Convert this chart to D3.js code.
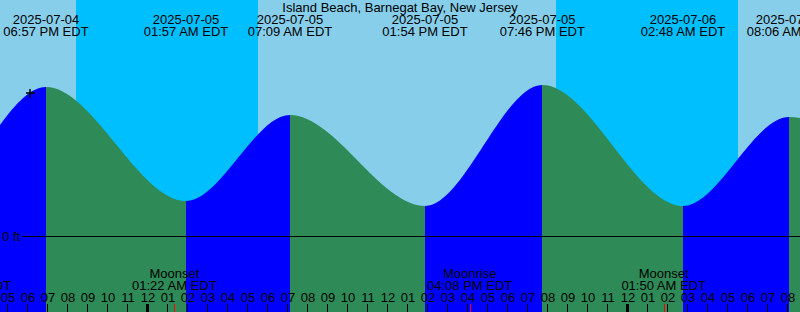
<!DOCTYPE html>
<meta charset="UTF-8">
<style>
    body { margin: 0; }
    text { font-family: "Liberation Sans", Arial, sans-serif; font-size: 13px; fill: #000; }
</style>
<body>
<div id="chart"></div>
<script src="https://d3js.org/d3.v7.min.js"></script>
<script>

// chart data
var title = "Island Beach, Barnegat Bay, New Jersey";
var tideTimes = ["2025-07-04 07:00", "2025-07-04 13:08", "2025-07-04 18:57", "2025-07-05 01:57",
                 "2025-07-05 07:09", "2025-07-05 13:54", "2025-07-05 19:46", "2025-07-06 02:48",
                 "2025-07-06 08:06", "2025-07-06 14:30"];
var tideFeet = [1.20, 0.39, 1.49, 0.35, 1.21, 0.30, 1.51, 0.30, 1.19, 0.32];
var sunsets = ["2025-07-04 20:27", "2025-07-05 20:27"];
var sunrises = ["2025-07-05 05:33", "2025-07-06 05:33"];
var moonTimes = ["2025-07-04 15:05", "2025-07-05 01:22", "2025-07-05 16:08", "2025-07-06 01:50"];
var moonEvents = ["Moonrise", "Moonset", "Moonrise", "Moonset"];
var nowMark = {time: "2025-07-04 18:09", ft: 1.43};
var timeWindow = ["2025-07-04 16:39", "2025-07-06 08:39"];

// dimensions
var width = 800, height = 312;

var parseTime = d3.utcParse("%Y-%m-%d %H:%M");
var fmtDate = d3.utcFormat("%Y-%m-%d");
var fmtTime = d3.utcFormat("%I:%M %p EDT");
var fmtHour = d3.utcFormat("%I");

var tides = tideTimes.map(function(t, i) { return {t: parseTime(t), ft: tideFeet[i]}; });

// scales
var x = d3.scaleUtc().domain(timeWindow.map(parseTime)).range([0, width]);
var y = d3.scaleLinear().domain([0, 1]).range([236, 136]);

var svg = d3.select("#chart").append("svg")
    .attr("width", width)
    .attr("height", height)
    .style("display", "block");

// sky: day then night bands
svg.append("rect")
    .attr("width", width).attr("height", height)
    .attr("fill", "#87CEEB");

svg.selectAll(".night")
    .data(sunsets)
    .enter().append("rect")
    .attr("class", "night")
    .attr("x", function(d) { return x(parseTime(d)); })
    .attr("y", 0)
    .attr("width", function(d, i) { return x(parseTime(sunrises[i])) - x(parseTime(d)); })
    .attr("height", height)
    .attr("fill", "#00BFFF");

// tide area used as clip
var area = d3.area()
    .x(function(d) { return x(d.t); })
    .y0(height)
    .y1(function(d) { return y(d.ft); })
    .curve(d3.curveMonotoneX);

svg.append("clipPath")
    .attr("id", "tideclip")
    .append("path")
    .attr("d", area(tides));

// rising = blue, falling = green
var segs = d3.pairs(tides);
svg.append("g")
    .attr("clip-path", "url(#tideclip)")
    .selectAll("rect")
    .data(segs)
    .enter().append("rect")
    .attr("x", function(d) { return x(d[0].t); })
    .attr("y", 0)
    .attr("width", function(d) { return x(d[1].t) - x(d[0].t); })
    .attr("height", height)
    .attr("fill", function(d) { return d[1].ft > d[0].ft ? "#0000FF" : "#2E8B57"; })
    .attr("shape-rendering", "crispEdges");

// zero line
svg.append("line")
    .attr("x1", 22).attr("x2", width)
    .attr("y1", y(0)).attr("y2", y(0))
    .attr("stroke", "#000")
    .attr("shape-rendering", "crispEdges");

svg.append("text")
    .attr("x", 2).attr("y", y(0) + 5)
    .text("0 ft");

// title
svg.append("text")
    .attr("x", width / 2).attr("y", 12)
    .attr("text-anchor", "middle")
    .text(title);

// tide extreme labels
var tl = svg.selectAll(".tlab")
    .data(tides)
    .enter().append("text")
    .attr("class", "tlab")
    .attr("text-anchor", "middle");
tl.append("tspan")
    .attr("x", function(d) { return x(d.t); })
    .attr("y", 24)
    .text(function(d) { return fmtDate(d.t); });
tl.append("tspan")
    .attr("x", function(d) { return x(d.t); })
    .attr("y", 36)
    .text(function(d) { return fmtTime(d.t); });

// moon labels
var ml = svg.selectAll(".mlab")
    .data(moonTimes)
    .enter().append("text")
    .attr("class", "mlab")
    .attr("text-anchor", "middle");
ml.append("tspan")
    .attr("x", function(d) { return x(parseTime(d)); })
    .attr("y", 278)
    .text(function(d, i) { return moonEvents[i]; });
ml.append("tspan")
    .attr("x", function(d) { return x(parseTime(d)); })
    .attr("y", 290)
    .text(function(d) { return fmtTime(parseTime(d)); });

// hour ticks and labels
var hours = d3.utcHour.range(x.domain()[0], x.domain()[1]);
svg.selectAll(".hlab")
    .data(hours)
    .enter().append("text")
    .attr("class", "hlab")
    .attr("x", function(d) { return x(d) + 1; })
    .attr("y", 302)
    .attr("text-anchor", "middle")
    .text(function(d) { return fmtHour(d); });

svg.selectAll(".htick")
    .data(hours)
    .enter().append("line")
    .attr("class", "htick")
    .attr("x1", function(d) { return Math.round(x(d)) + 0.5; })
    .attr("x2", function(d) { return Math.round(x(d)) + 0.5; })
    .attr("y1", 304).attr("y2", height)
    .attr("stroke", "#000")
    .attr("stroke-width", function(d) { return d.getUTCHours() === 0 ? 3 : 1; });

// moon event ticks
svg.selectAll(".mtick")
    .data(moonTimes)
    .enter().append("line")
    .attr("class", "mtick")
    .attr("x1", function(d) { return Math.round(x(parseTime(d))) + 0.5; })
    .attr("x2", function(d) { return Math.round(x(parseTime(d))) + 0.5; })
    .attr("y1", 304).attr("y2", height)
    .attr("stroke", "#FF0000");

// current time marker
var nx = x(parseTime(nowMark.time)), ny = y(nowMark.ft);
svg.append("path")
    .attr("d", "M" + (nx - 4) + "," + ny + "H" + (nx + 5) + "M" + nx + "," + (ny - 4) + "V" + (ny + 5))
    .attr("stroke", "#000")
    .attr("stroke-width", 1.5);

</script>
</body>
